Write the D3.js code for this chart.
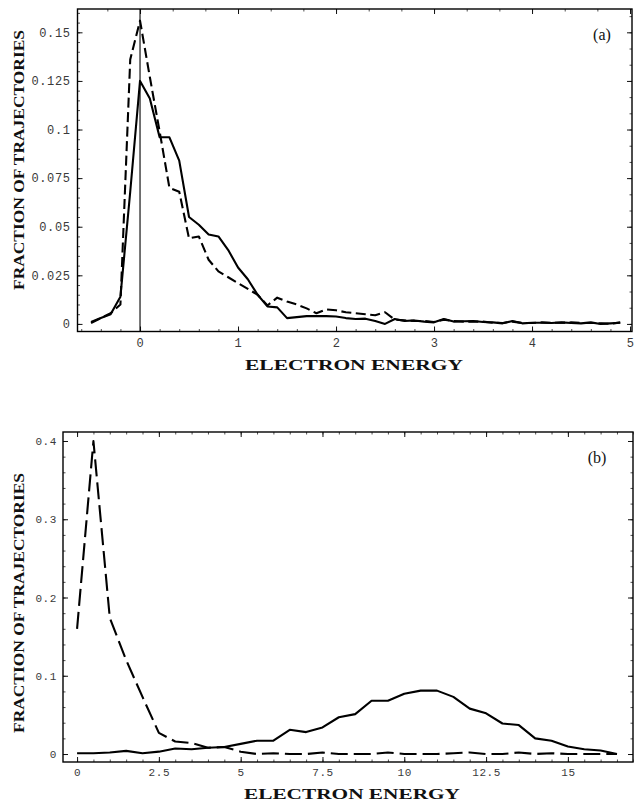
<!DOCTYPE html>
<html>
<head>
<meta charset="utf-8">
<script src="https://cdn.jsdelivr.net/npm/d3@7"></script>
<style>
  html, body { margin: 0; padding: 0; background: #fff; }
  svg { display: block; }
  .tick text { font-family: "Liberation Mono", "DejaVu Sans Mono", monospace; fill: #3a3a3a; letter-spacing: 0.6px; }
  .title { font-family: "Liberation Serif", "DejaVu Serif", serif; font-weight: bold; fill: #111; }
  .tag { font-family: "Liberation Serif", "DejaVu Serif", serif; fill: #111; }
</style>
</head>
<body>
<svg id="chart" width="634" height="802"></svg>
<script>
// ---- Panel (a): energies below/near threshold ----
const aEnergy = [-0.5,-0.4,-0.3,-0.2,-0.1,
  0.0,0.1,0.2,0.3,0.4,0.5,0.6,0.7,0.8,0.9,
  1.0,1.1,1.2,1.3,1.4,1.5,1.6,1.7,1.8,1.9,
  2.0,2.1,2.2,2.3,2.4,2.5,2.6,2.7,2.8,2.9,
  3.0,3.1,3.2,3.3,3.4,3.5,3.6,3.7,3.8,3.9,
  4.0,4.1,4.2,4.3,4.4,4.5,4.6,4.7,4.8,4.9];
const aSolid = [0.001,0.003,0.005,0.014,0.068,
  0.125,0.116,0.096,0.096,0.084,0.055,0.051,0.046,0.045,0.038,
  0.029,0.023,0.015,0.009,0.0085,0.003,0.0035,0.004,0.004,0.004,
  0.0038,0.003,0.0025,0.0027,0.0015,0.0,0.0025,0.0015,0.0018,0.0012,
  0.0008,0.0025,0.0012,0.0014,0.0015,0.001,0.0008,0.0003,0.0015,0.0003,
  0.0006,0.0006,0.0005,0.0008,0.0005,0.0003,0.0008,0.0,0.0003,0.0006];
const aDashed = [0.0005,0.003,0.0055,0.010,0.136,
  0.156,0.127,0.099,0.070,0.068,0.044,0.045,0.033,0.027,0.024,
  0.021,0.018,0.015,0.0095,0.0135,0.0115,0.010,0.008,0.0055,0.0075,
  0.007,0.006,0.0055,0.005,0.0045,0.006,0.0022,0.0018,0.0015,0.0015,
  0.001,0.0022,0.0015,0.0012,0.0012,0.0012,0.0006,0.0005,0.0012,0.0005,
  0.0005,0.0008,0.0006,0.0006,0.0008,0.0005,0.0005,0.0003,0.0,0.0008];
const aXTicks = [0,1,2,3,4,5];
const aYTicks = [0,0.025,0.05,0.075,0.1,0.125,0.15];
const aYLabels = ["0","0.025","0.05","0.075","0.1","0.125","0.15"];

// ---- Panel (b): wide energy range ----
const bEnergy = [0,0.5,1,1.5,2,2.5,3,3.5,4,4.5,5,5.5,6,6.5,7,7.5,8,8.5,
  9,9.5,10,10.5,11,11.5,12,12.5,13,13.5,14,14.5,15,15.5,16,16.5];
const bSolid = [0.001,0.001,0.002,0.004,0.001,0.003,0.007,0.006,0.008,0.009,
  0.013,0.017,0.017,0.031,0.028,0.034,0.047,0.051,0.068,0.068,
  0.077,0.081,0.081,0.073,0.058,0.052,0.039,0.037,0.020,0.017,
  0.0095,0.006,0.0045,0.0];
const bDashed = [0.16,0.40,0.174,0.12,0.073,0.027,0.016,0.014,0.008,0.009,
  0.003,0.0,0.001,0.0,0.0,0.002,0.0,0.0,0.0,0.002,
  0.0,0.0,0.0,0.001,0.002,0.0,0.0,0.002,0.0,0.001,
  0.0,0.0,0.0,0.0];
const bXTicks = [0,2.5,5,7.5,10,12.5,15];
const bXLabels = ["0","2.5","5","7.5","10","12.5","15"];
const bYTicks = [0,0.1,0.2,0.3,0.4];
const bYLabels = ["0","0.1","0.2","0.3","0.4"];

const svg = d3.select("#chart");

function stepValues(lo, hi, step) {
  const out = [];
  const n0 = Math.ceil(lo / step - 1e-9), n1 = Math.floor(hi / step + 1e-9);
  for (let k = n0; k <= n1; k++) out.push(+(k * step).toFixed(6));
  return out;
}

function drawPanel(p) {
  const x = d3.scaleLinear().domain(p.xDomain).range([p.left, p.right]);
  const y = d3.scaleLinear().domain(p.yDomain).range([p.bottom, p.top]);
  const g = svg.append("g");

  const clipId = "clip-" + p.name;
  svg.append("clipPath").attr("id", clipId)
    .append("rect").attr("x", p.left).attr("y", p.top)
    .attr("width", p.right - p.left).attr("height", p.bottom - p.top);

  // minor and major ticks on all four sides, pointing inwards
  const sides = [
    { make: d3.axisBottom, scale: x, pos: [0, p.bottom], minor: p.xMinor, major: p.xTicks, labels: p.xLabels, pad: p.xPad },
    { make: d3.axisLeft, scale: y, pos: [p.left, 0], minor: p.yMinor, major: p.yTicks, labels: p.yLabels, pad: p.yPad },
    { make: d3.axisTop, scale: x, pos: [0, p.top], minor: p.topMinor, major: p.topMajor },
    { make: d3.axisRight, scale: y, pos: [p.right, 0], minor: p.rightMinor, major: p.rightMajor }
  ];
  sides.forEach(s => {
    g.append("g").attr("transform", `translate(${s.pos[0]},${s.pos[1]})`)
      .call(s.make(s.scale).tickValues(s.minor).tickSize(-2.5).tickFormat(""))
      .call(a => a.select(".domain").remove())
      .call(a => a.selectAll("line").attr("stroke", "#222").attr("stroke-width", 0.8));
    const majAxis = s.make(s.scale).tickValues(s.major).tickSize(-5);
    if (s.labels) {
      majAxis.tickFormat((d, i) => s.labels[i]).tickPadding(s.pad);
    } else {
      majAxis.tickFormat("");
    }
    const ag = g.append("g").attr("transform", `translate(${s.pos[0]},${s.pos[1]})`).call(majAxis);
    ag.select(".domain").remove();
    ag.selectAll("line").attr("stroke", "#111").attr("stroke-width", 1);
    ag.selectAll("text").style("font-size", p.fs + "px");
  });

  // frame
  g.append("rect").attr("x", p.left).attr("y", p.top)
    .attr("width", p.right - p.left).attr("height", p.bottom - p.top)
    .attr("fill", "none").attr("stroke", "#000").attr("stroke-width", 1.4);

  // vertical reference line at zero energy
  if (p.vline !== undefined) {
    g.append("line").attr("x1", x(p.vline)).attr("x2", x(p.vline))
      .attr("y1", p.bottom).attr("y2", p.top)
      .attr("stroke", "#000").attr("stroke-width", 1.1);
  }

  const line = d3.line().x(d => x(d[0])).y(d => y(d[1]));
  const plot = g.append("g").attr("clip-path", `url(#${clipId})`);
  plot.append("path")
    .datum(p.energy.map((e, i) => [e, p.solid[i]]))
    .attr("d", line).attr("fill", "none").attr("stroke", "#000")
    .attr("stroke-width", 2.1).attr("stroke-linejoin", "round");
  plot.append("path")
    .datum(p.energy.map((e, i) => [e, p.dashed[i]]))
    .attr("d", line).attr("fill", "none").attr("stroke", "#000")
    .attr("stroke-width", 2.1).attr("stroke-dasharray", p.dash)
    .attr("stroke-linejoin", "round");

  // axis titles and panel tag
  svg.append("text").attr("class", "title")
    .attr("transform", `translate(${p.yTitleX},${p.yTitleY}) rotate(-90)`)
    .attr("text-anchor", "middle").style("font-size", "14.5px")
    .attr("textLength", p.yTitleLen).attr("lengthAdjust", "spacingAndGlyphs")
    .text("FRACTION OF TRAJECTORIES");
  svg.append("text").attr("class", "title")
    .attr("x", p.xTitleX).attr("y", p.xTitleY)
    .attr("text-anchor", "middle").style("font-size", "14.5px")
    .attr("textLength", p.xTitleLen).attr("lengthAdjust", "spacingAndGlyphs")
    .text("ELECTRON ENERGY");
  svg.append("text").attr("class", "tag")
    .attr("x", p.tagX).attr("y", p.tagY).attr("text-anchor", "middle")
    .style("font-size", "16px").text(p.tag);
}

drawPanel({
  name: "a", left: 77.5, right: 632, top: 9, bottom: 331.5,
  xDomain: [-0.638, 5.02], yDomain: [-0.0039, 0.162],
  energy: aEnergy, solid: aSolid, dashed: aDashed, dash: "10,4.5",
  xTicks: aXTicks, xLabels: aXTicks.map(String), xMinor: stepValues(-0.6, 5.0, 0.2), xPad: 7,
  yTicks: aYTicks, yLabels: aYLabels, yMinor: stepValues(0, 0.16, 0.005), yPad: 7,
  topMajor: stepValues(-0.6, 5.0, 1), topMinor: stepValues(-0.6, 5.0, 1 / 3),
  rightMajor: aYTicks, rightMinor: stepValues(0, 0.16, 0.025 / 3),
  fs: 12, vline: 0,
  yTitleX: 24, yTitleY: 160, yTitleLen: 260,
  xTitleX: 354, xTitleY: 370, xTitleLen: 218,
  tag: "(a)", tagX: 602, tagY: 40
});

drawPanel({
  name: "b", left: 63, right: 633, top: 432, bottom: 762,
  xDomain: [-0.43, 16.99], yDomain: [-0.0102, 0.4115],
  energy: bEnergy, solid: bSolid, dashed: bDashed, dash: "17,6",
  xTicks: bXTicks, xLabels: bXLabels, xMinor: stepValues(-0.4, 17, 0.5), xPad: 6,
  yTicks: bYTicks, yLabels: bYLabels, yMinor: stepValues(0, 0.41, 0.02), yPad: 6,
  topMajor: bXTicks, topMinor: stepValues(-0.4, 17, 0.5),
  rightMajor: bYTicks, rightMinor: stepValues(0, 0.41, 0.02),
  fs: 11,
  yTitleX: 24, yTitleY: 603, yTitleLen: 260,
  xTitleX: 352, xTitleY: 799, xTitleLen: 216,
  tag: "(b)", tagX: 597, tagY: 463
});
</script>
</body>
</html>
